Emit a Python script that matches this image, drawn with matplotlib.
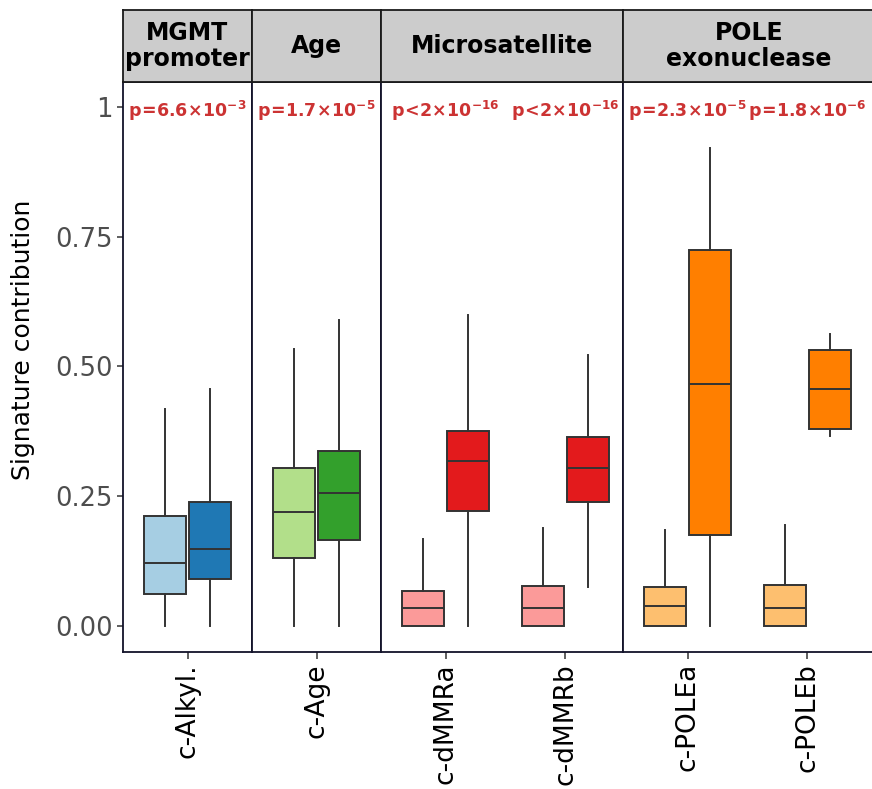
import matplotlib
matplotlib.use("Agg")
import matplotlib.pyplot as plt
import numpy as np

plt.rcParams['mathtext.fontset'] = 'custom'
plt.rcParams['mathtext.rm'] = 'DejaVu Sans:bold'
plt.rcParams['mathtext.bf'] = 'DejaVu Sans:bold'

# groups, facets and box statistics
groups = ['c-Alkyl.', 'c-Age', 'c-dMMRa', 'c-dMMRb', 'c-POLEa', 'c-POLEb']
panels = ['MGMT\npromoter', 'Age', 'Microsatellite', 'POLE\nexonuclease']
panel_of_group = [0, 1, 2, 2, 3, 3]
pvals = [r'$\mathbf{p\!=\!6.6\!\times\!10^{-3}}$', r'$\mathbf{p\!=\!1.7\!\times\!10^{-5}}$',
         r'$\mathbf{p\!<\!2\!\times\!10^{-16}}$', r'$\mathbf{p\!<\!2\!\times\!10^{-16}}$',
         r'$\mathbf{p\!=\!2.3\!\times\!10^{-5}}$', r'$\mathbf{p\!=\!1.8\!\times\!10^{-6}}$']

# left box of each pair (group without the feature)
lo_whislo = [0.0, 0.0, 0.0, 0.0, 0.0, 0.0]
lo_q1 = [0.062, 0.131, 0.0, 0.0, 0.0, 0.0]
lo_med = [0.121, 0.220, 0.035, 0.035, 0.038, 0.034]
lo_q3 = [0.212, 0.304, 0.068, 0.077, 0.076, 0.080]
lo_whishi = [0.418, 0.533, 0.168, 0.189, 0.185, 0.195]

# right box of each pair (group with the feature)
hi_whislo = [0.0, 0.0, 0.0, 0.075, 0.0, 0.367]
hi_q1 = [0.090, 0.166, 0.222, 0.238, 0.175, 0.380]
hi_med = [0.149, 0.257, 0.317, 0.305, 0.466, 0.457]
hi_q3 = [0.239, 0.337, 0.376, 0.364, 0.725, 0.531]
hi_whishi = [0.456, 0.589, 0.599, 0.523, 0.920, 0.563]

lo_colors = ['#A6CEE3', '#B2DF8A', '#FB9A99', '#FB9A99', '#FDBF6F', '#FDBF6F']
hi_colors = ['#1F78B4', '#33A02C', '#E31A1C', '#E31A1C', '#FF7F00', '#FF7F00']

yticks = [0, 0.25, 0.5, 0.75, 1]
yticklabels = ['0.00', '0.25', '0.50', '0.75', '1']

W, H = 872, 789
fig = plt.figure(figsize=(W / 100, H / 100), dpi=100)

# panel layout in pixels (last panel runs off the right edge like the source)
px_edges = [(123, 252), (252, 381), (381, 623), (623, 880)]
strip_center_px = [None, None, None, 749]
top_strip, top_panel, bottom_panel = 10, 82, 652
frame_col = '#12122a'
dodge, bw = 0.19, 0.35

def px_axes(x0, x1, y0, y1):
    return fig.add_axes([x0 / W, 1 - y1 / H, (x1 - x0) / W, (y1 - y0) / H])

for p, name in enumerate(panels):
    x0, x1 = px_edges[p]
    ax = px_axes(x0, x1, top_panel, bottom_panel)
    idx = [i for i, g in enumerate(panel_of_group) if g == p]
    n = len(idx)
    ppu = 242 / 2.02
    ax.set_xlim(0.46, 0.46 + (x1 - x0) / ppu)
    ax.set_ylim(-0.05, 1.048)

    stats, pos, cols = [], [], []
    for k, i in enumerate(idx):
        c = k + 1
        stats.append(dict(whislo=lo_whislo[i], q1=lo_q1[i], med=lo_med[i], q3=lo_q3[i],
                          whishi=lo_whishi[i], fliers=[]))
        stats.append(dict(whislo=hi_whislo[i], q1=hi_q1[i], med=hi_med[i], q3=hi_q3[i],
                          whishi=hi_whishi[i], fliers=[]))
        pos += [c - dodge, c + dodge]
        cols += [lo_colors[i], hi_colors[i]]
        ax.text(c, 0.981, pvals[i], color='#CC3333', fontsize=12.5,
                ha='center', va='baseline')

    bp = ax.bxp(stats, positions=pos, widths=bw, patch_artist=True, showcaps=False,
                showfliers=False, manage_ticks=False,
                boxprops=dict(edgecolor='#333333', linewidth=1.4),
                whiskerprops=dict(color='#333333', linewidth=1.4),
                medianprops=dict(color='#333333', linewidth=1.4))
    for patch, c in zip(bp['boxes'], cols):
        patch.set_facecolor(c)

    ax.set_xticks(range(1, n + 1))
    ax.set_xticklabels([groups[i] for i in idx], rotation=90, fontsize=19)
    ax.tick_params(axis='x', length=5, width=1.1, color='#333333', pad=3)
    if p == 0:
        ax.set_yticks(yticks)
        ax.set_yticklabels(yticklabels, fontsize=18.5, color='#4D4D4D')
        ax.tick_params(axis='y', length=4.5, width=1.1, color='#333333', pad=3)
    else:
        ax.set_yticks([])
    for s in ax.spines.values():
        s.set_color(frame_col)
        s.set_linewidth(1.3)

    sx = px_axes(x0, x1, top_strip, top_panel)
    sx.set_facecolor('#CCCCCC')
    sx.set_xticks([]); sx.set_yticks([])
    for s in sx.spines.values():
        s.set_color('#1a1a1a')
        s.set_linewidth(1.3)
    cx = 0.5 if strip_center_px[p] is None else (strip_center_px[p] - x0) / (x1 - x0)
    sx.text(cx, 0.5, name, transform=sx.transAxes, ha='center', va='center',
            fontsize=17, fontweight='bold', linespacing=1.1)

fig.text(23 / W, 1 - 340 / H, 'Signature contribution', rotation=90,
         ha='center', va='center', fontsize=18)

fig.savefig('out.png', dpi=100)
